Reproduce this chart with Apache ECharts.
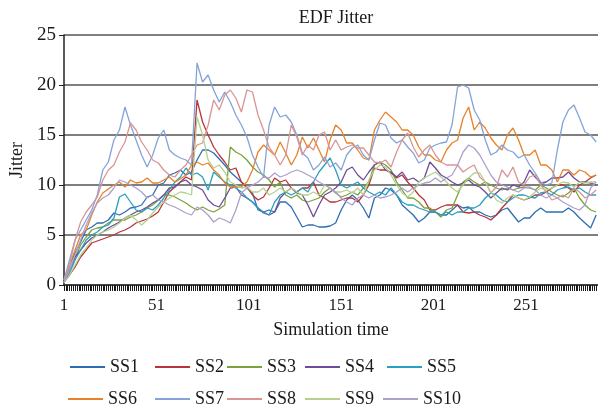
<!DOCTYPE html>
<html>
<head>
<meta charset="utf-8">
<script src="https://cdn.jsdelivr.net/npm/echarts@6/dist/echarts.min.js"></script>
<style>
	html, body { margin: 0; padding: 0; background: #fff; }
	#chart { width: 598px; height: 412px; }
</style>
</head>
<body>
<div id="chart"></div>
<script>
/** EDF Jitter 折线图 */
let time_count = 290; // 横轴 1..290
let step = 3; // 每隔 3 个时刻读一个值

let ss1 = [0.3, 2, 3.2, 4.3, 5.5, 5.8, 6.2, 6.2, 6.5, 7.2, 7, 7.3, 7.7, 7.8, 8, 8.8, 9, 10, 10.2, 11, 11.2, 11.5, 11, 11.3, 12.5,
	13.5, 13.5, 13.2, 12.6, 12, 11.3, 10.8, 10.3, 9.7, 9.2, 7.5, 7.3, 7.5, 7.3, 8.3, 8.3, 7.8, 6.8, 5.8, 6, 6, 5.8, 5.8, 5.9,
	6.2, 7.5, 8.5, 9, 8.5, 7.7, 6.7, 8.7, 9, 9.7, 9.5, 9, 8, 7.5, 7, 6.3, 6.7, 7.3, 7.3, 7, 7, 7.5, 8, 7.7, 7.8,
	7.3, 7.3, 7, 6.8, 7, 7.5, 7.7, 7, 6.3, 6.7, 6.7, 7.3, 7.7, 7.3, 7.3, 7.3, 7.3, 7.7, 7.3, 6.7, 6.2, 5.7, 7];
let ss2 = [0.3, 1, 1.8, 2.8, 3.5, 4.2, 4.4, 4.6, 4.8, 5, 5.3, 5.5, 5.8, 6.2, 6.4, 6.6, 6.9, 7.3, 8.3, 9.3, 9.8, 10.3, 10.8, 10.5, 18.5,
	16.3, 15, 13.8, 13, 12.3, 11.5, 11.7, 10.3, 9.8, 9, 8.5, 8.8, 9.7, 10.7, 10.3, 10.5, 9.7, 9.3, 9.7, 9.7, 10.3, 9, 8.7, 8.3,
	8.3, 8.5, 8.7, 8.7, 8.3, 9, 10, 11.7, 11.5, 11.5, 11.2, 10.7, 11, 10.3, 9.7, 9, 8.5, 7.5, 7.5, 7.8, 8, 8, 8, 7.3, 7.2,
	7.3, 7, 6.8, 6.5, 7, 7.7, 8.3, 9, 8.7, 8.5, 8.7, 9, 9, 9.3, 9.7, 10, 10, 9.7, 9.3, 10, 10.3, 10.7, 11];
let ss3 = [0.3, 1.5, 2.7, 4, 4.8, 5.5, 5.7, 5.8, 6.2, 6.5, 6.5, 6.5, 6.8, 7, 7.3, 7.7, 8, 8.5, 9, 9, 8.8, 8.5, 8.2, 7.8, 7.5,
	7.8, 7.5, 7.3, 7.6, 8, 13.8, 13.3, 13, 12.5, 11.8, 11.3, 11, 10.5, 9.8, 10.3, 9, 8.7, 9, 8.5, 8.3, 8.5, 8.7, 9.3, 9.7,
	9.2, 8.8, 9, 9.3, 9, 9.7, 10.3, 12, 12.3, 12, 11.5, 10.3, 9.5, 8.7, 8.7, 8.3, 7.7, 7.7, 7.3, 6.8, 7.5, 7.7, 9, 10.3, 10.7,
	10.3, 10, 10.3, 10, 9.7, 9.5, 9.7, 9.5, 9.7, 9.8, 9.7, 9.5, 10, 9.7, 9.3, 9, 8.8, 9.2, 9.7, 8.7, 8, 7.5, 7.3];
let ss4 = [0.3, 1.5, 2.8, 3.5, 4.2, 4.7, 5, 5.3, 5.7, 6, 6.3, 6.7, 7, 7.3, 7.5, 7.8, 8.2, 8.5, 9, 9.7, 9.8, 10.3, 10.5, 10, 9.8,
	9.5, 8.5, 8, 7.8, 8.7, 9.7, 9.8, 9, 8.7, 8.3, 7.7, 7.2, 7, 7.3, 8.7, 9.3, 9.7, 9.2, 9, 8, 6.8, 8, 9, 9.3,
	9.7, 10.3, 11.5, 11.8, 11, 10.5, 11.3, 12, 12.3, 11.5, 11.3, 10.8, 11.3, 10.5, 10.7, 10.3, 10.7, 12.3, 11.7, 11, 10.7, 10.3, 10, 10.2, 10.5,
	10, 9.8, 9.3, 8.7, 9.2, 9.7, 9.5, 10, 9.8, 10.3, 11.5, 10.8, 10.2, 10.3, 10.7, 10.7, 10.8, 11.3, 10.7, 10.3, 10.3, 10.2, 10];
let ss5 = [0.2, 1.2, 2.5, 3.5, 4.5, 5, 5.3, 5.8, 6, 6.7, 8.8, 9.1, 8.3, 7.5, 7.3, 7.7, 7.5, 8, 8.7, 9.5, 10.3, 10.8, 11.7, 11, 11.2,
	10.8, 9.5, 11.3, 10.8, 10.3, 10, 9.7, 9.3, 8.7, 8.3, 7.7, 7.3, 7, 8.3, 9, 9.3, 9, 9.3, 9.7, 9.3, 10.3, 11.3, 12, 12.7,
	11.5, 10, 9.7, 10, 10.3, 9.7, 9.3, 9, 9.3, 9, 9.7, 9, 8.3, 8, 8, 7.7, 7.5, 7.3, 7.3, 7, 7.3, 7, 7.3, 7.3, 7.7,
	7.7, 8, 8.7, 9.2, 9, 8.5, 8.3, 8.7, 9, 9, 8.8, 8.7, 9.2, 9.3, 9, 9.5, 9.7, 9.8, 9.5, 9.7, 9.3, 9, 9];
let ss6 = [0.5, 2, 3.5, 5, 5.5, 7, 8.3, 9.2, 9.6, 10, 10.3, 9.8, 10.5, 10.2, 10.3, 10.7, 10.2, 10.2, 10.5, 10.8, 10.3, 10.6, 11, 12, 12.3,
	12, 12.2, 11.5, 11, 10.2, 9.8, 9.8, 9.8, 10.3, 11.5, 13.3, 14, 13.5, 13, 14.3, 13.2, 12, 13, 14.8, 13.7, 14.7, 13.5, 12.3, 14.5,
	16, 15.5, 14.2, 14.2, 13.5, 12.7, 12.5, 15.5, 16.5, 17.3, 16.8, 16.3, 15.5, 15.5, 15, 13.8, 13, 13, 12.5, 12.3, 13.5, 14.2, 14.5, 16.7, 17.8,
	15.5, 16.3, 15.7, 14.7, 14, 13.5, 15, 15.7, 14.5, 13, 13, 13.5, 12, 12, 11.5, 10.3, 11.5, 11.5, 11, 11.5, 11.3, 10.8, 11];
let ss7 = [0.5, 2.5, 4.5, 5.5, 6.5, 7.5, 9, 11.5, 12.3, 14.5, 15.5, 17.8, 16, 14.5, 13, 11.8, 13, 14.7, 15.5, 13.5, 13, 12.7, 12.5, 12, 22.2,
	20.3, 21, 19.5, 18.3, 19.3, 18.3, 17, 16, 14.8, 13, 11.8, 10.8, 16, 17.8, 16.8, 17, 16.3, 15, 13.2, 12.7, 11.5, 12, 12.8, 11.8,
	12.2, 11.5, 13, 13.7, 14, 13, 12.5, 14.5, 16.2, 16, 14.7, 14.2, 14.5, 13.8, 13.2, 12.2, 12.5, 13.7, 14, 14.2, 14.3, 16, 19.8, 20, 19.7,
	17.5, 16.5, 14.5, 13, 13.3, 14, 13.5, 13.3, 12.7, 13, 12, 11.2, 10.3, 10, 10.2, 13.5, 16.3, 17.5, 18, 16.7, 15.3, 15, 14.3];
let ss8 = [0.5, 2, 4.5, 6.3, 7.3, 8, 8.8, 10.5, 11.5, 12, 13.3, 14.3, 16.2, 15.5, 14.3, 13.5, 12.5, 12.2, 11.5, 11, 10.8, 11.5, 12, 13, 14,
	14.2, 16, 18.5, 17.5, 19, 19.5, 18.7, 17.3, 19.5, 19.3, 17, 15.5, 13.8, 13, 12, 13, 16, 14.8, 13, 14, 13.5, 15, 15.3, 13.5,
	14.5, 13.5, 13.8, 14, 13.7, 13.7, 13, 12.3, 12.2, 12.5, 11.8, 13.3, 14.5, 15.2, 13.8, 12.8, 13.5, 14, 13, 12.3, 12, 12, 12, 11.3, 11.7,
	12, 10.8, 10.3, 9.2, 9.8, 11.5, 10.8, 11.8, 10.3, 10, 10.8, 11, 10, 9.3, 8.5, 8.7, 9, 8.7, 9.7, 9.3, 8.7, 9, 9.5];
let ss9 = [0.2, 1, 2, 3, 3.7, 4.5, 5, 5.3, 5.5, 5.8, 6.2, 6.7, 7, 6.5, 6, 6.5, 7.2, 7.8, 8.3, 8.7, 9, 9.3, 9.2, 9, 16.8,
	15, 12.5, 11.7, 12, 11.3, 10.3, 10, 9.7, 9.8, 9.3, 9.3, 9.7, 9, 9.3, 9.7, 9.3, 9.7, 9.3, 9, 9, 9.3, 9, 10, 9.7,
	9.3, 9.3, 9.5, 9.2, 9.7, 9, 10.5, 11.5, 12, 11.8, 11, 10, 9.2, 8.8, 9.3, 10.3, 10.7, 11, 11.3, 10.8, 10.3, 9.7, 9.3, 10, 10.7,
	11.2, 11.2, 10.3, 9.3, 8.5, 8.2, 8.7, 9, 8.7, 8.5, 8.8, 9.3, 9.7, 9.5, 9.7, 10, 10.3, 10.2, 9.8, 10.3, 10.2, 10.3, 10.3];
let ss10 = [0.3, 1.5, 3, 4.5, 6, 7.2, 8.2, 8.7, 9, 9.7, 10.5, 10.3, 10, 9.7, 9.3, 8.7, 9, 8.5, 8.3, 8, 7.8, 7.5, 7.2, 7, 7.8,
	7.5, 7, 6.3, 6.7, 6.5, 6.2, 7.5, 9.2, 9.7, 10, 10.3, 10.8, 10.7, 11.2, 10.8, 11, 11.3, 11.5, 11.3, 11, 10.7, 10.3, 10, 9.7,
	9.3, 8.7, 8.3, 8, 8.7, 9, 8.7, 9, 8.7, 8.8, 9, 9.3, 9.7, 9.3, 9.7, 10, 10.2, 10.3, 10.7, 10.3, 10.7, 11, 12, 13.3, 14,
	13.7, 13, 12, 11, 10.3, 10, 9.8, 9.5, 9.3, 9.7, 9.8, 9.5, 9, 8.7, 9, 8.7, 8.3, 8, 7.7, 7.5, 8, 9.7, 10.3];

let series_names = ["SS1", "SS2", "SS3", "SS4", "SS5", "SS6", "SS7", "SS8", "SS9", "SS10"];
let series_values = [ss1, ss2, ss3, ss4, ss5, ss6, ss7, ss8, ss9, ss10];
let series_colors = ["#2e6db4", "#b8343a", "#7ba33a", "#6e4c9a", "#2a9fbf", "#e8822a", "#84a3d8", "#d99594", "#b5d18e", "#ada0cc"];

let x_times = [];
for (let i = 1; i <= time_count; i++) {
	x_times.push(String(i));
}

let font = "'Liberation Serif', 'Times New Roman', serif";

// 图例分两行, 每个图例单独摆放
let legend_left = [70, 155, 227, 305, 387, 68, 155, 227, 305, 383];
let legend_top = [358, 358, 358, 358, 358, 390, 390, 390, 390, 390];
let legends = series_names.map(function (name, k) {
	return {
		data: [name],
		left: legend_left[k],
		top: legend_top[k],
		padding: 0,
		itemWidth: 35,
		itemHeight: 2,
		itemGap: 0,
		icon: "rect",
		textStyle: { fontFamily: font, fontSize: 18, color: "#1a1a1a" },
	};
});

let jitter_chart = echarts.init(document.getElementById("chart"));
let jitter_option = {
	animation: false,
	color: series_colors,
	title: {
		text: "EDF Jitter",
		left: 331,
		top: 4,
		textAlign: "center",
		textStyle: { fontFamily: font, fontSize: 18, fontWeight: "normal", color: "#1a1a1a" },
	},
	legend: legends,
	grid: {
		left: 64,
		right: 0,
		top: 35,
		bottom: 127,
	},
	xAxis: {
		type: "category",
		boundaryGap: false,
		data: x_times,
		name: "Simulation time",
		nameLocation: "middle",
		nameGap: 36,
		nameTextStyle: { fontFamily: font, fontSize: 18, color: "#1a1a1a" },
		axisLine: { lineStyle: { color: "#333", width: 1.5 } },
		axisTick: { interval: 0, length: 6, lineStyle: { color: "#1a1a1a", width: 1 } },
		axisLabel: {
			interval: 49,
			margin: 12,
			fontFamily: font,
			fontSize: 17,
			color: "#1a1a1a",
		},
		splitLine: { show: false },
	},
	yAxis: {
		type: "value",
		min: 0,
		max: 25,
		interval: 5,
		name: "Jitter",
		nameLocation: "middle",
		nameGap: 35,
		nameTextStyle: { fontFamily: font, fontSize: 18, color: "#1a1a1a" },
		axisLine: { show: true, lineStyle: { color: "#222", width: 1.5 } },
		axisTick: { show: true, length: 5, lineStyle: { color: "#222" } },
		axisLabel: { margin: 8, fontFamily: font, fontSize: 19, color: "#1a1a1a" },
		splitLine: { lineStyle: { color: "#555", width: 1.5 } },
	},
	series: series_names.map(function (name, k) {
		return {
			name: name,
			type: "line",
			symbol: "none",
			lineStyle: { width: 1.3 },
			data: series_values[k].map(function (v, j) {
				return [j * step, v];
			}),
		};
	}),
};
jitter_chart.setOption(jitter_option);
</script>
</body>
</html>
